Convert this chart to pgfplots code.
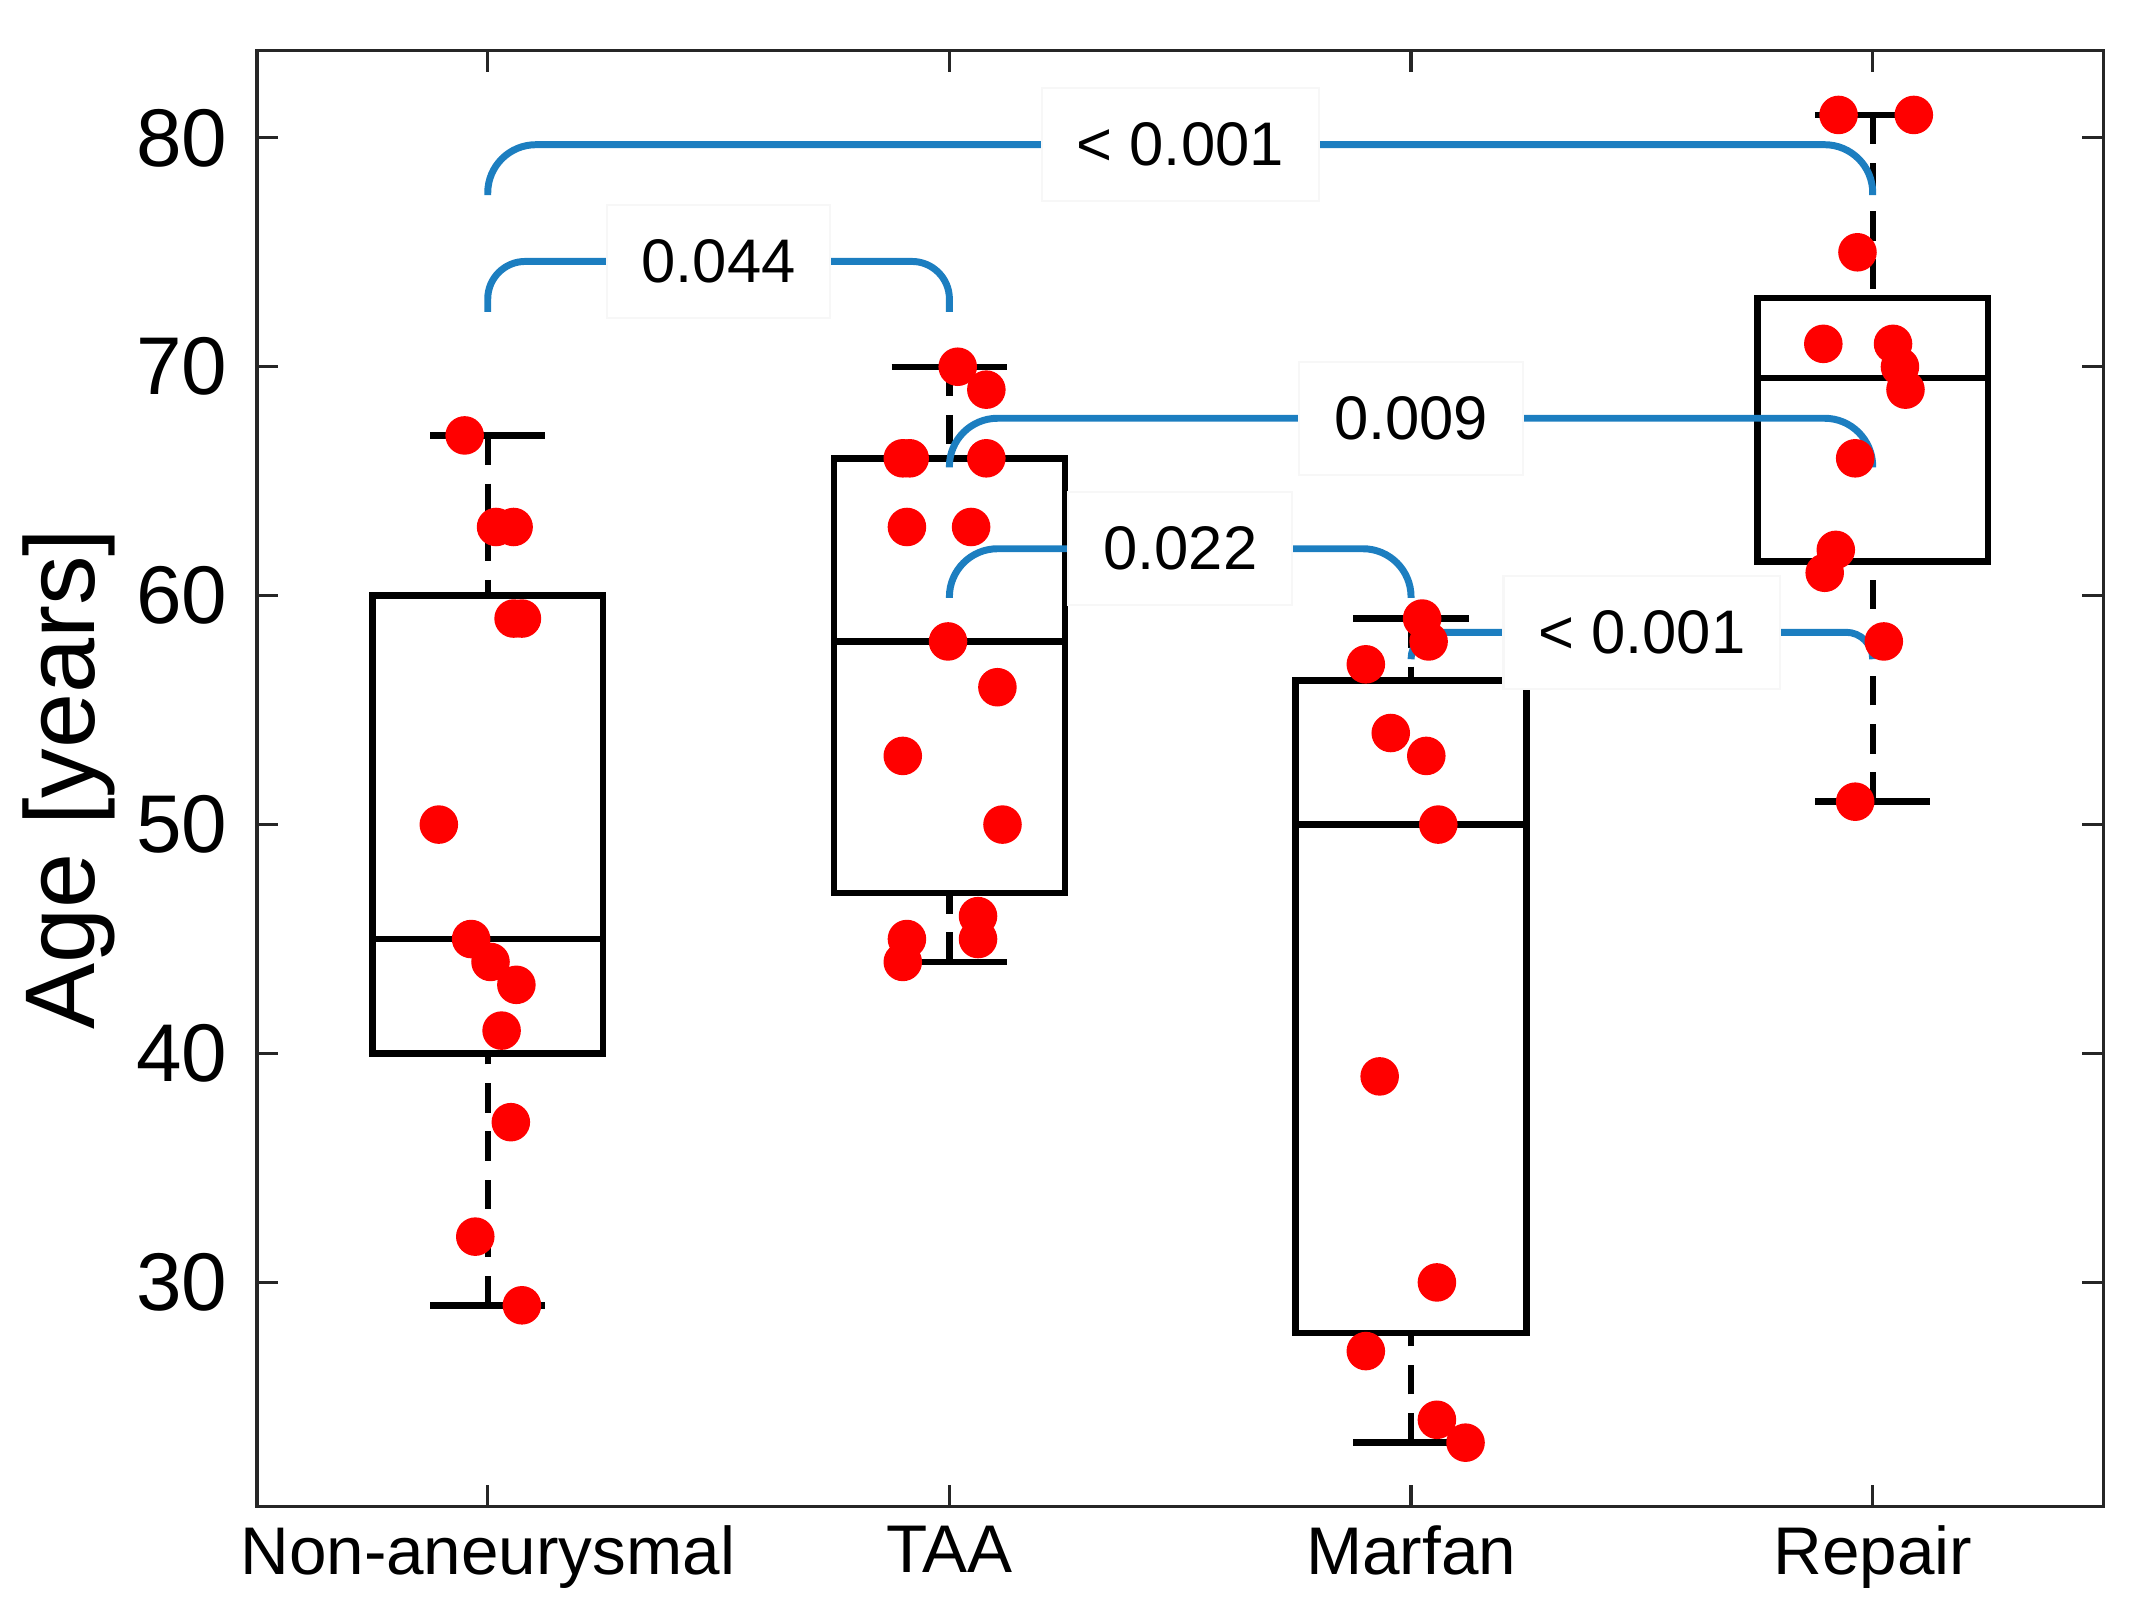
\documentclass[border=0pt]{standalone}
\usepackage{fontspec}
\setmainfont{Liberation Sans}
\usepackage{pgfplots}
\pgfplotsset{compat=1.18}
\usepgfplotslibrary{statistics}

\definecolor{brk}{RGB}{28,126,192}

% dashed whisker line, solid cap
\pgfplotsset{
  boxplot/draw/lower whisker/.code={%
    \draw[dash pattern=on 5.5pt off 3.5pt]
      (boxplot box cs:\pgfplotsboxplotvalue{lower whisker},0.5) --
      (boxplot box cs:\pgfplotsboxplotvalue{lower quartile},0.5);
    \draw (boxplot whisker cs:\pgfplotsboxplotvalue{lower whisker},0) --
      (boxplot whisker cs:\pgfplotsboxplotvalue{lower whisker},1);
  },
  boxplot/draw/upper whisker/.code={%
    \draw[dash pattern=on 5.5pt off 3.5pt]
      (boxplot box cs:\pgfplotsboxplotvalue{upper whisker},0.5) --
      (boxplot box cs:\pgfplotsboxplotvalue{upper quartile},0.5);
    \draw (boxplot whisker cs:\pgfplotsboxplotvalue{upper whisker},0) --
      (boxplot whisker cs:\pgfplotsboxplotvalue{upper whisker},1);
  },
  bx/.style={black, line width=1.2pt, solid},
  br/.style={brk, line width=1.3pt, rounded corners=9pt},
}
\tikzset{
  pv/.style={fill=white, draw=black!3, inner xsep=6.5pt, inner ysep=6.5pt,
    font=\fontsize{11.5}{13}\selectfont},
}

\begin{document}
\begin{tikzpicture}
\begin{axis}[
  scale only axis,
  width=345pt, height=272pt,
  xmin=0.5, xmax=4.5, ymin=20.2, ymax=83.8,
  xtick={1,2,3,4},
  xticklabels={Non-aneurysmal,TAA,Marfan,Repair},
  ytick={30,40,50,60,70,80},
  tick align=inside,
  major tick length=4pt,
  axis line style={black!85, line width=0.6pt},
  tick style={black!85, line width=0.6pt},
  xticklabel style={font=\fontsize{12.6}{14}\selectfont},
  yticklabel style={font=\fontsize{15.3}{17}\selectfont, xshift=-2pt},
  ylabel={Age [years]},
  ylabel shift=-3pt,
  ylabel style={font=\fontsize{18.5}{21}\selectfont},
  /pgf/number format/assume math mode=true,
  boxplot/draw direction=y,
  boxplot/box extend=0.5,
  boxplot/whisker extend=0.25,
  clip=false,
]

% individual subjects
\addplot[only marks, mark=*, mark size=3.4pt, red, mark options={draw=red}] coordinates {
  (0.950,67) (1.018,63) (1.056,63) (1.056,59) (1.074,59) (0.894,50)
  (0.964,45) (1.006,44) (1.062,43) (1.030,41) (1.050,37) (0.973,32) (1.074,29)
};
\addplot[only marks, mark=*, mark size=3.4pt, red, mark options={draw=red}] coordinates {
  (2.018,70) (2.080,69) (1.899,66) (1.914,66) (2.080,66) (1.908,63) (2.047,63)
  (1.997,58) (2.104,56) (1.899,53) (2.115,50) (2.062,46) (1.908,45) (2.062,45) (1.899,44)
};
\addplot[only marks, mark=*, mark size=3.4pt, red, mark options={draw=red}] coordinates {
  (3.024,59) (3.038,58) (2.902,57) (2.956,54) (3.033,53) (3.059,50)
  (2.932,39) (3.056,30) (2.902,27) (3.056,24) (3.118,23)
};
\addplot[only marks, mark=*, mark size=3.4pt, red, mark options={draw=red}] coordinates {
  (3.926,81) (4.089,81) (3.967,75) (3.893,71) (4.044,71) (4.059,70)
  (4.071,69) (3.962,66) (3.920,62) (3.896,61) (4.024,58) (3.962,51)
};

% boxes
\addplot[bx, boxplot prepared={draw position=1, lower whisker=29, lower quartile=40,
  median=45, upper quartile=60, upper whisker=67}] coordinates {};
\addplot[bx, boxplot prepared={draw position=2, lower whisker=44, lower quartile=47,
  median=58, upper quartile=66, upper whisker=70}] coordinates {};
\addplot[bx, boxplot prepared={draw position=3, lower whisker=23, lower quartile=27.8,
  median=50, upper quartile=56.3, upper whisker=59}] coordinates {};
\addplot[bx, boxplot prepared={draw position=4, lower whisker=51, lower quartile=61.5,
  median=69.5, upper quartile=73, upper whisker=81}] coordinates {};

% significance brackets
\addplot[br] coordinates {(1,77.5) (1,79.7) (4,79.7) (4,77.5)};
\addplot[br, rounded corners=7pt] coordinates {(1,72.4) (1,74.6) (2,74.6) (2,72.4)};
\addplot[br] coordinates {(2,65.6) (2,67.75) (4,67.75) (4,65.6)};
\addplot[br] coordinates {(2,59.9) (2,62.05) (3,62.05) (3,59.9)};
\addplot[br, rounded corners=5pt] coordinates {(3,57.3) (3,58.4) (4,58.4) (4,57.3)};

\node[pv] at (axis cs:2.5,79.7) {< 0.001};
\node[pv] at (axis cs:1.5,74.6) {0.044};
\node[pv] at (axis cs:3.0,67.75) {0.009};
\node[pv] at (axis cs:2.5,62.05) {0.022};
\node[pv] at (axis cs:3.5,58.4) {< 0.001};
\end{axis}
\path ([xshift=7pt,yshift=9.5pt]current axis.north east);
\path ([xshift=-48pt,yshift=-19pt]current axis.south west);
\end{tikzpicture}
\end{document}
